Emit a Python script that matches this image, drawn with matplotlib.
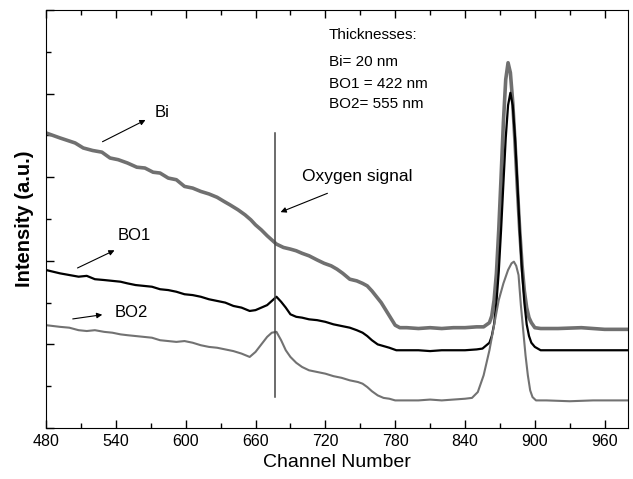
import matplotlib
matplotlib.use('Agg')
import numpy as np
from matplotlib import pyplot as plt
from matplotlib.ticker import MultipleLocator

plt.rcParams['font.family'] = ['Liberation Sans', 'DejaVu Sans']

# channel / intensity (a.u.)
bi_ch = [480, 492, 505, 512, 520, 528, 535, 542, 550, 558, 565, 572, 578, 585, 592, 599,
         606, 613, 620, 627, 633, 638, 645, 651, 656, 660, 665, 670, 674, 678, 684, 690,
         695, 700, 706, 713, 719, 725, 730, 735, 741, 747, 752, 756, 760, 764, 768, 772,
         776, 780, 784, 790, 800, 810, 820, 830, 840, 850, 856, 861, 863, 865, 867, 869,
         871, 873, 875, 877, 879, 881, 883, 885, 887, 889, 891, 893, 895, 897, 900, 905,
         920, 940, 960, 980]
bi_val = [353, 347, 341, 335, 332, 330, 323, 321, 317, 312, 311, 306, 305, 299, 297, 289,
          287, 283, 280, 276, 271, 267, 261, 255, 249, 243, 237, 230, 225, 220, 216, 214,
          212, 209, 206, 201, 197, 194, 190, 185, 178, 176, 173, 170, 164, 157, 150, 141,
          132, 123, 120, 120, 119, 120, 119, 120, 120, 121, 121, 126, 134, 153, 185, 237,
          300, 366, 417, 437, 425, 390, 341, 287, 237, 195, 164, 144, 132, 126, 120, 119,
          119, 120, 118, 118]

bo1_ch = [480, 486, 492, 500, 508, 515, 522, 530, 537, 544, 550, 557, 564, 571, 578, 585,
          592, 599, 606, 613, 620, 627, 634, 641, 648, 655, 660, 665, 670, 674, 678, 682,
          686, 690, 695, 700, 706, 713, 720, 727, 734, 741, 747, 752, 756, 760, 765, 770,
          775, 781, 790, 800, 810, 820, 830, 840, 850, 855, 861, 863, 865, 867, 869, 871,
          873, 875, 877, 879, 881, 883, 885, 887, 889, 891, 893, 895, 897, 900, 905, 920,
          940, 960, 980]
bo1_val = [189, 187, 185, 183, 181, 182, 178, 177, 176, 175, 173, 171, 170, 169, 166, 165,
           163, 160, 159, 157, 154, 152, 150, 146, 144, 140, 141, 144, 147, 152, 157, 151,
           144, 136, 133, 132, 130, 129, 127, 124, 122, 120, 117, 114, 110, 105, 100, 98,
           96, 93, 93, 93, 92, 93, 93, 93, 94, 95, 102, 110, 124, 150, 187, 237,
           293, 347, 386, 401, 386, 347, 293, 237, 187, 150, 124, 110, 102, 97, 93, 93,
           93, 93, 93]

bo2_ch = [480, 486, 492, 500, 508, 515, 522, 530, 537, 544, 550, 557, 564, 571, 578, 585,
          592, 599, 606, 613, 620, 627, 634, 641, 648, 655, 660, 665, 670, 674, 678, 682,
          686, 690, 695, 700, 706, 713, 720, 727, 734, 741, 748, 752, 756, 760, 765, 770,
          775, 780, 790, 800, 810, 820, 830, 840, 846, 851, 856, 861, 865, 869, 873, 877,
          880, 882, 884, 886, 888, 890, 892, 894, 896, 898, 901, 910, 930, 950, 980]
bo2_val = [123, 122, 121, 120, 117, 116, 117, 115, 114, 112, 111, 110, 109, 108, 105, 104,
           103, 104, 102, 99, 97, 96, 94, 92, 89, 85, 91, 100, 109, 114, 115, 105,
           93, 85, 78, 73, 69, 67, 65, 62, 60, 57, 55, 53, 49, 44, 39, 36,
           35, 33, 33, 33, 34, 33, 34, 35, 36, 43, 63, 93, 123, 153, 173, 189,
           197, 199, 194, 183, 147, 117, 87, 63, 45, 37, 33, 33, 32, 33, 33]

oxygen_ch = 677

fig = plt.figure(figsize=(6.33, 4.79), dpi=100)
ax = fig.add_axes([0.0727, 0.1065, 0.9193, 0.8725])

ax.plot(bi_ch, bi_val, color='#707070', lw=2.6)
ax.plot(bo1_ch, bo1_val, color='black', lw=1.6)
ax.plot(bo2_ch, bo2_val, color='#727272', lw=1.5)
ax.plot([oxygen_ch, oxygen_ch], [37, 353], color='#444444', lw=1.1)

ax.set_xlim(480, 980)
ax.set_ylim(0, 500)
ax.xaxis.set_major_locator(MultipleLocator(60))
ax.xaxis.set_minor_locator(MultipleLocator(30))
ax.yaxis.set_major_locator(MultipleLocator(100))
ax.yaxis.set_minor_locator(MultipleLocator(50))
ax.set_yticklabels([])
ax.tick_params(which='both', direction='in', top=True, right=False, width=1)
ax.tick_params(which='major', length=6)
ax.tick_params(which='minor', length=3.5)
ax.tick_params(axis='x', labelsize=11.5, pad=4)
for lab in ax.get_xticklabels():
    lab.set_family(['Liberation Sans Narrow', 'Liberation Sans'])

ax.set_xlabel('Channel Number', fontsize=14, labelpad=4)
ax.set_ylabel('Intensity (a.u.)', fontsize=14.5, fontweight='bold', labelpad=5)

arw = dict(arrowstyle='-|>', color='black', lw=0.8, mutation_scale=8)
ax.annotate('', xy=(567.6, 370), xytext=(526.4, 341), arrowprops=arw)
ax.text(573.6, 378, 'Bi', fontsize=12, va='center')
ax.annotate('', xy=(541, 214), xytext=(504.9, 190), arrowprops=arw)
ax.text(541.9, 230, 'BO1', fontsize=12, va='center')
ax.annotate('', xy=(530.7, 136), xytext=(500.6, 130), arrowprops=arw)
ax.text(539.3, 138, 'BO2', fontsize=12, va='center')
ax.annotate('', xy=(679.3, 257), xytext=(724, 282), arrowprops=arw)
ax.text(700, 301, 'Oxygen signal', fontsize=12.5, va='center')

ax.text(723, 470, 'Thicknesses:', fontsize=11, va='center')
ax.text(723, 438, 'Bi= 20 nm', fontsize=11, va='center')
ax.text(723, 411, 'BO1 = 422 nm', fontsize=11, va='center')
ax.text(723, 388, 'BO2= 555 nm', fontsize=11, va='center')

fig.savefig('out.png', dpi=100)
